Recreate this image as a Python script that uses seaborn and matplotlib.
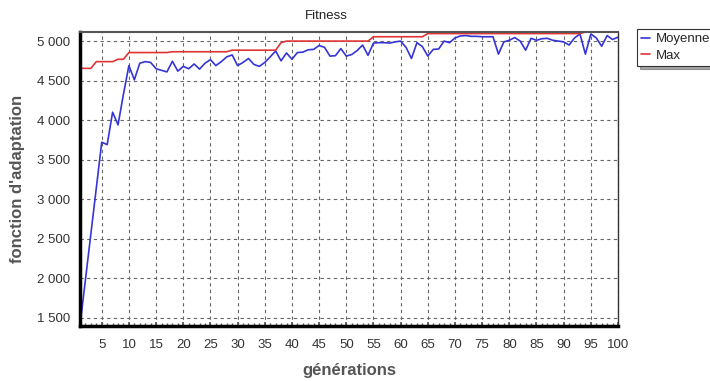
import pandas as pd
import matplotlib
matplotlib.use("Agg")
import matplotlib.pyplot as plt
import matplotlib.ticker as mticker
import seaborn as sns

sns.set_theme(style="white")
plt.rcParams['font.family'] = ['Liberation Sans', 'DejaVu Sans']

# Valeurs (générations 1 à 100)
generations = list(range(1, 101))
moyenne = [1400, 1980, 2560, 3140, 3720, 3690, 4100, 3940, 4330, 4690,
           4510, 4720, 4740, 4730, 4650, 4630, 4610, 4745, 4620, 4680,
           4650, 4710, 4645, 4720, 4765, 4690, 4740, 4800, 4825, 4690,
           4730, 4780, 4705, 4680, 4730, 4800, 4875, 4750, 4850, 4770,
           4855, 4860, 4890, 4895, 4945, 4920, 4810, 4815, 4905, 4810,
           4830, 4880, 4950, 4820, 4975, 4980, 4980, 4975, 4990, 5000,
           4920, 4780, 4980, 4930, 4810, 4895, 4900, 5000, 4980, 5040,
           5065, 5070, 5060, 5060, 5055, 5055, 5055, 4835, 4990, 5010,
           5045, 5000, 4885, 5035, 5010, 5030, 5035, 5010, 5000, 4990,
           4950, 5040, 5090, 4835, 5090, 5040, 4935, 5070, 5020, 5050]
maximum = ([4655] * 3 + [4740] * 4 + [4770] * 2 + [4855] * 8 + [4865] * 11 +
           [4885] * 9 + [4980] + [5000] * 16 + [5055] * 10 + [5095] * 29 +
           [5115] * 7)

df = pd.DataFrame({"génération": generations, "Moyenne": moyenne, "Max": maximum})
df_long = df.melt(id_vars="génération", var_name="serie", value_name="fitness")

fig = plt.figure(figsize=(7.1, 3.81), dpi=100)
ax = fig.add_axes([80 / 710, 1 - 326 / 381, 538 / 710, 294 / 381])

sns.lineplot(data=df_long, x="génération", y="fitness", hue="serie",
             palette={"Moyenne": "#3535d5", "Max": "#e03434"},
             linewidth=1.2, ax=ax, legend=False)

ax.set_xlim(1, 100)
ax.set_ylim(1395, 5115)
ax.xaxis.set_major_locator(mticker.MultipleLocator(5))
ax.xaxis.set_minor_locator(mticker.MultipleLocator(1))
ax.yaxis.set_major_locator(mticker.MultipleLocator(500))
ax.yaxis.set_major_formatter(mticker.FuncFormatter(lambda v, p: f"{int(v):,}".replace(",", " ")))
ax.tick_params(axis="both", labelsize=9.5, labelcolor="#333333", length=0)
ax.tick_params(axis="y", pad=7)
ax.tick_params(axis="x", which="minor", direction="in", length=2.5, color="#555555", bottom=True)
ax.tick_params(axis="x", which="major", direction="in", length=3, color="#555555",
               bottom=True, pad=9)

ax.grid(True, which="major", linestyle=(0, (3, 3)), color="#666666", linewidth=0.8)

ax.spines["left"].set_linewidth(2.5)
ax.spines["left"].set_color("black")
ax.spines["bottom"].set_linewidth(2.5)
ax.spines["bottom"].set_color("black")
ax.spines["top"].set_linewidth(1.5)
ax.spines["top"].set_color("#555555")
ax.spines["right"].set_linewidth(1.0)
ax.spines["right"].set_color("#333333")

ax.set_xlabel("générations", fontsize=12, fontweight="bold", color="#555555", labelpad=9)
ax.set_ylabel("fonction d'adaptation", fontsize=12, fontweight="bold", color="#555555", labelpad=9)
fig.text(326 / 710, 1 - 16 / 381, "Fitness", fontsize=9.5, color="#222222",
         ha="center", va="center")

handles = [plt.Line2D([], [], color="#3535d5", lw=1.2),
           plt.Line2D([], [], color="#e03434", lw=1.2)]
leg = fig.legend(handles, ["Moyenne", "Max"], loc="upper left",
                 bbox_to_anchor=(637 / 710, 1 - 29 / 381), fontsize=9.5,
                 frameon=True, fancybox=False, shadow=True, handlelength=0.7,
                 handletextpad=0.4, borderpad=0.3, labelspacing=0.35,
                 borderaxespad=0)
leg.get_frame().set_edgecolor("#333333")
leg.get_frame().set_linewidth(0.8)

fig.savefig("out.png", dpi=100)
